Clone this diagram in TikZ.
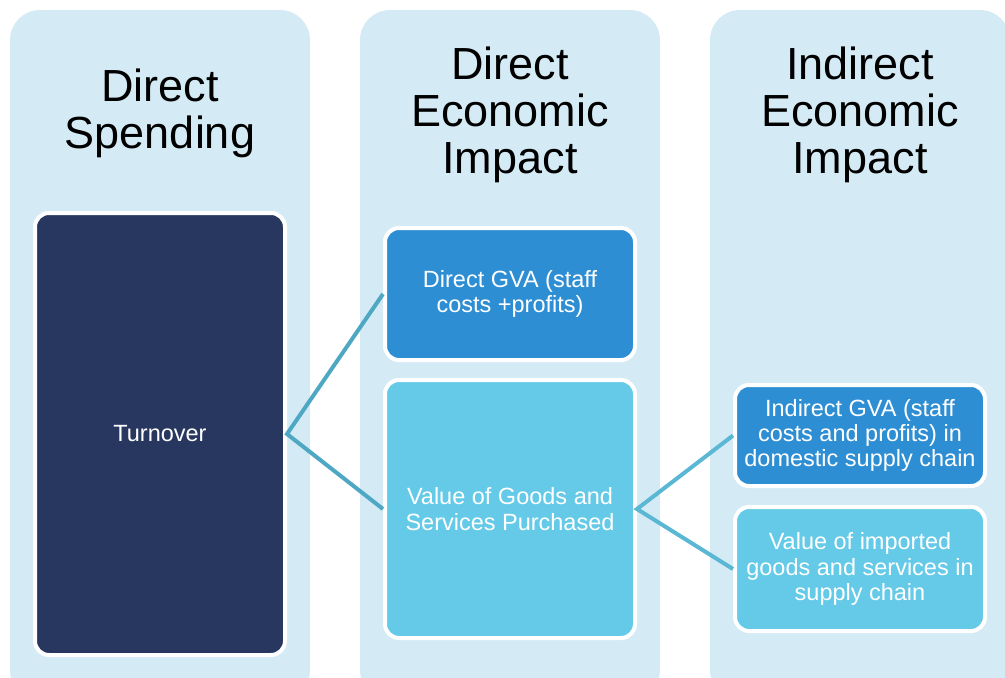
\documentclass[tikz,border=0pt]{standalone}
\usepackage{fontspec}
\setmainfont{Liberation Sans}
\definecolor{colbg}{HTML}{D4EBF5}
\definecolor{navy}{HTML}{28375F}
\definecolor{midblue}{HTML}{2E8ED3}
\definecolor{lightcyan}{HTML}{64CAE8}
\definecolor{linkcol}{HTML}{4EA8C4}
\definecolor{linkcoltwo}{HTML}{5AB8D5}
\begin{document}
\begin{tikzpicture}[x=1pt,y=-1pt,
  column/.style={fill=colbg,rounded corners=30pt,minimum width=300pt,minimum height=690pt,inner sep=0pt,draw=none},
  heading/.style={font=\fontsize{45}{47}\selectfont,text width=290pt,align=center,anchor=base,inner sep=0pt},
  box/.style={draw=white,line width=4pt,rounded corners=14pt,minimum width=250pt,inner sep=0pt,text=white,align=center,font=\fontsize{23.5}{25.3}\selectfont},
  link/.style={draw=linkcol,line width=4pt},
  linktwo/.style={draw=linkcoltwo,line width=4pt}]
\useasboundingbox (0,0) rectangle (1005,678);
% columns
\node[column] (c1) at (160,355) {};
\node[column] (c2) at (510,355) {};
\node[column] (c3) at (860,355) {};
% headings
\node[heading] (h1) at (160,101) {Direct\\Spending};
\node[heading] (h2) at (510,79) {Direct\\Economic\\Impact};
\node[heading] (h3) at (860,79) {Indirect\\Economic\\Impact};
% boxes
\node[box,fill=navy,minimum height=442pt] (turn) at (160,434) {Turnover};
\node[box,fill=midblue,minimum height=132pt] (dgva) at (510,294) {Direct GVA (staff\\costs +profits)};
\node[box,fill=lightcyan,minimum height=258pt] (vgs) at (510,509) {Value of Goods and\\Services Purchased};
\node[box,fill=midblue,minimum height=101pt] (igva) at (860,435.5) {Indirect GVA (staff\\costs and profits) in\\domestic supply chain};
\node[box,fill=lightcyan,minimum height=124pt] (vimp) at (860,569) {Value of imported\\goods and services in\\supply chain};
% connectors
\draw[link] (dgva.west) -- (turn.east) -- (vgs.west);
\draw[linktwo] (igva.west) -- (vgs.east) -- (vimp.west);
\end{tikzpicture}
\end{document}
